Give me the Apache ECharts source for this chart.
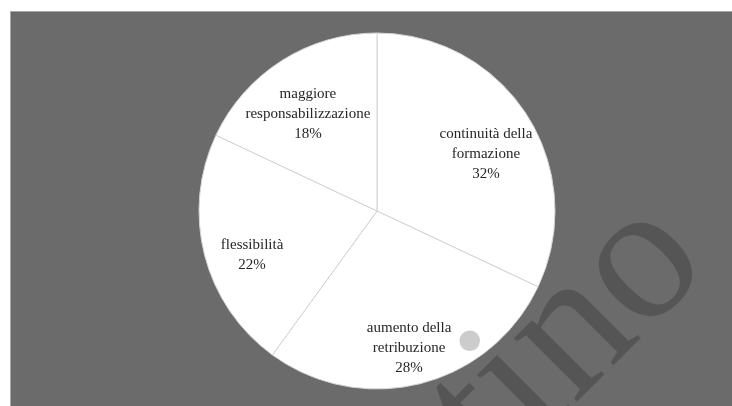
<!DOCTYPE html>
<html>
<head>
<meta charset="utf-8">
<script src="https://cdn.jsdelivr.net/npm/echarts@6/dist/echarts.min.js"></script>
<style>
html,body{margin:0;padding:0;background:#ffffff;}
#chart{width:732px;height:406px;}
</style>
</head>
<body>
<div id="chart"></div>
<script>
const categories = [
  "continuità della\nformazione",
  "aumento della\nretribuzione",
  "flessibilità",
  "maggiore\nresponsabilizzazione"
];
const values = [32, 28, 22, 18];
const watermarkText = "tino";

const pieData = categories.map((c, i) => ({ name: c, value: values[i] }));

const chart = echarts.init(document.getElementById('chart'), null, { renderer: 'canvas' });
const center = [377, 211];
const R = 178;

chart.setOption({
  animation: false,
  backgroundColor: '#ffffff',
  graphic: [
    {
      type: 'rect', z: -10, silent: true,
      shape: { x: 10.5, y: 11.5, width: 740, height: 420 },
      style: { fill: '#6b6b6b', stroke: '#a8a8a8', lineWidth: 1 }
    },
    {
      type: 'text', z: 100, silent: true,
      x: 530, y: 514,
      rotation: Math.PI / 4,
      style: {
        text: watermarkText,
        font: '195px "Liberation Serif", "DejaVu Serif", serif',
        fill: 'rgba(0,0,0,0.2)',
        align: 'left',
        verticalAlign: 'bottom'
      }
    }
  ],
  series: [
    {
      type: 'pie',
      center: center,
      radius: [0, R],
      startAngle: 90,
      clockwise: true,
      silent: true,
      label: { show: false },
      labelLine: { show: false },
      itemStyle: { color: '#ffffff', borderColor: '#d4d4d4', borderWidth: 1 },
      emphasis: { disabled: true },
      data: pieData
    },
    {
      type: 'pie',
      center: center,
      radius: [74, R],
      startAngle: 90,
      clockwise: true,
      silent: true,
      itemStyle: { color: 'rgba(0,0,0,0)', borderWidth: 0 },
      emphasis: { disabled: true },
      labelLine: { show: false },
      label: {
        show: true,
        position: 'inside',
        formatter: '{b}\n{d}%',
        color: '#262626',
        fontFamily: '"Liberation Serif", "DejaVu Serif", serif',
        fontSize: 15,
        lineHeight: 20,
        align: 'center',
        offset: [0, 12]
      },
      data: pieData
    }
  ]
});
</script>
</body>
</html>
